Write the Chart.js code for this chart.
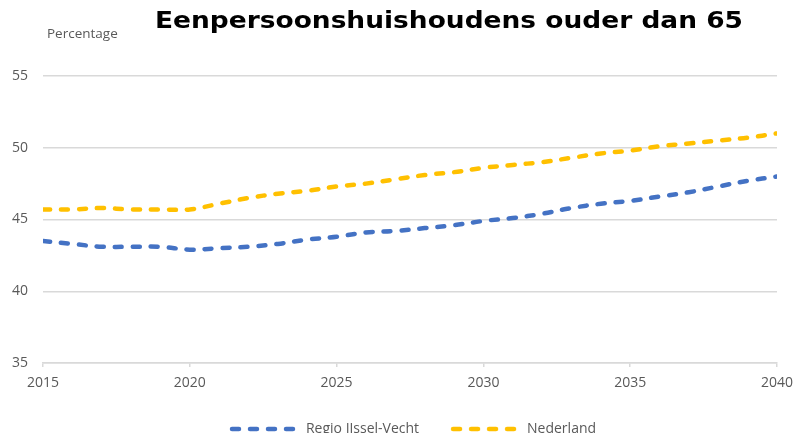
<!DOCTYPE html>
<html>
<head>
<meta charset="utf-8">
<script src="https://cdn.jsdelivr.net/npm/chart.js@4.4.0/dist/chart.umd.min.js"></script>
<style>
  html, body { margin: 0; padding: 0; background: #fff; overflow: hidden; }
  #wrap { position: relative; width: 796px; height: 433px; overflow: hidden; }
  #box { position: absolute; left: 0; top: 0; width: 796px; height: 446px; }
</style>
</head>
<body>
<div id="wrap"><div id="box"><canvas id="chart"></canvas></div></div>
<script>
const years = [2015, 2016, 2017, 2018, 2019, 2020, 2021, 2022, 2023, 2024, 2025, 2026, 2027,
               2028, 2029, 2030, 2031, 2032, 2033, 2034, 2035, 2036, 2037, 2038, 2039, 2040];
const regio = [43.5, 43.3, 43.1, 43.1, 43.1, 42.9, 43.0, 43.1, 43.3, 43.6, 43.8, 44.1, 44.2,
               44.4, 44.6, 44.9, 45.1, 45.4, 45.8, 46.1, 46.3, 46.6, 46.9, 47.3, 47.7, 48.0];
const nederland = [45.7, 45.7, 45.8, 45.7, 45.7, 45.7, 46.1, 46.5, 46.8, 47.0, 47.3, 47.5, 47.8,
                   48.1, 48.3, 48.6, 48.8, 49.0, 49.3, 49.6, 49.8, 50.1, 50.3, 50.5, 50.7, 51.0];
const seriesNames = ['Regio IJssel-Vecht', 'Nederland'];
const seriesColors = ['#4472C4', '#FFC000'];
const chartTitle = 'Eenpersoonshuishoudens ouder dan 65';
const yTitle = 'Percentage';

const grey = '#595959';
const gridGrey = '#d9d9d9';
const dash = [7, 11];
const lineW = 4.5;

// little dashed line image used as legend symbol (4px blank on the left for spacing)
function dashSample(color) {
    const c = document.createElement('canvas');
    c.width = 74;
    c.height = 8;
    const g = c.getContext('2d');
    g.strokeStyle = color;
    g.lineWidth = lineW;
    g.lineCap = 'round';
    g.setLineDash(dash);
    g.beginPath();
    g.moveTo(7, 4);
    g.lineTo(74, 4);
    g.stroke();
    return c;
}

// title + "Percentage" drawn as text above the plot
const headerText = {
    id: 'headerText',
    afterLayout(chart) {
        // legend in the original sits a bit right of centre
        chart.legend.left += 22;
        chart.legend.right += 22;
    },
    afterDraw(chart) {
        const ctx = chart.ctx;
        ctx.save();
        ctx.fillStyle = '#000';
        ctx.font = 'bold 23px "DejaVu Sans"';
        ctx.textBaseline = 'alphabetic';
        const w = ctx.measureText(chartTitle).width;
        const sx = 588 / w;
        ctx.translate(155, 28);
        ctx.scale(sx, 1);
        ctx.fillText(chartTitle, 0, 0);
        ctx.setTransform(1, 0, 0, 1, 0, 0);
        ctx.fillStyle = grey;
        ctx.font = '13.5px "Open Sans"';
        ctx.fillText(yTitle, 47, 38);
        ctx.restore();
    }
};

function lineSet(label, values, color) {
    return {
        label: label,
        data: values.map((v, i) => ({ x: years[i], y: v })),
        borderColor: color,
        backgroundColor: color,
        borderWidth: lineW,
        borderDash: dash,
        borderCapStyle: 'round',
        pointRadius: 0,
        pointHoverRadius: 0,
        pointStyle: dashSample(color),
        tension: 0.35,
        fill: false
    };
}

new Chart(document.getElementById('chart').getContext('2d'), {
    type: 'line',
    data: {
        datasets: [
            lineSet(seriesNames[0], regio, seriesColors[0]),
            lineSet(seriesNames[1], nederland, seriesColors[1])
        ]
    },
    options: {
        responsive: true,
        maintainAspectRatio: false,
        animation: false,
        layout: {
            padding: { top: 76, right: 19, left: 0, bottom: 0 }
        },
        plugins: {
            tooltip: { enabled: false },
            title: { display: false },
            legend: {
                position: 'bottom',
                labels: {
                    usePointStyle: true,
                    pointStyleWidth: 74,
                    boxHeight: 14,
                    padding: 27,
                    color: grey,
                    font: { family: '"Open Sans"', size: 14 }
                }
            }
        },
        scales: {
            x: {
                type: 'linear',
                min: 2015,
                max: 2040,
                afterFit: function(scale) {
                    scale.height = 32;
                    scale.paddingRight = 19;
                },
                grid: {
                    drawOnChartArea: false,
                    drawTicks: true,
                    tickLength: 4,
                    color: gridGrey,
                    lineWidth: 1.5
                },
                border: { display: true, color: gridGrey, width: 1.5 },
                ticks: {
                    stepSize: 5,
                    padding: 8,
                    color: grey,
                    font: { family: '"Open Sans"', size: 14 },
                    callback: function(value) {
                        return String(value);
                    }
                }
            },
            y: {
                min: 35,
                max: 55,
                afterFit: function(scale) {
                    scale.width = 43;
                },
                grid: {
                    drawTicks: false,
                    color: gridGrey,
                    lineWidth: 1.5
                },
                border: { display: false },
                ticks: {
                    stepSize: 5,
                    padding: 15,
                    color: grey,
                    font: { family: '"Open Sans"', size: 14 }
                }
            }
        }
    },
    plugins: [headerText]
});
</script>
</body>
</html>
